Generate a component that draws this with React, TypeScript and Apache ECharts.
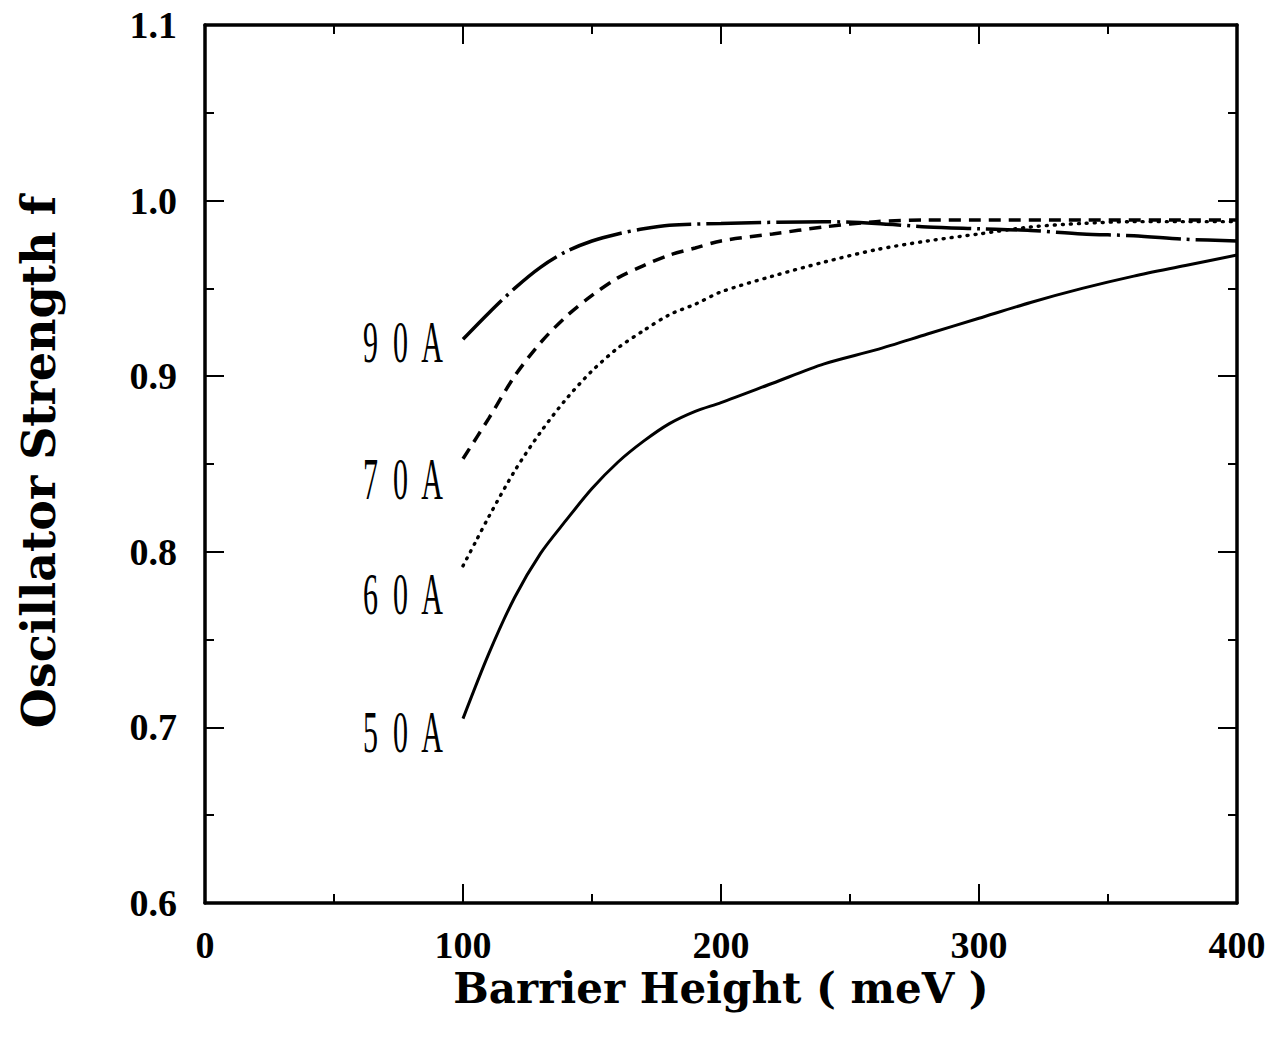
import React, { useEffect, useRef } from "react";
import * as echarts from "echarts";

// Barrier height (meV) and oscillator strength f for each well width
const x50 = [100, 110, 120, 130, 140, 150, 160, 170, 180, 190, 200, 220, 240, 260, 280, 300, 320, 340, 360, 380, 400];
const f50 = [0.705, 0.742, 0.774, 0.799, 0.818, 0.836, 0.851, 0.863, 0.873, 0.880, 0.885, 0.896, 0.907, 0.915, 0.924, 0.933, 0.942, 0.950, 0.957, 0.963, 0.969];

const x60 = [100, 105, 110, 120, 130, 140, 150, 160, 170, 180, 190, 200, 220, 240, 260, 280, 300, 320, 340, 360, 380, 400];
const f60 = [0.792, 0.806, 0.820, 0.846, 0.868, 0.887, 0.903, 0.916, 0.926, 0.935, 0.941, 0.948, 0.957, 0.965, 0.972, 0.977, 0.981, 0.985, 0.987, 0.988, 0.988, 0.988];

const x70 = [100, 110, 120, 130, 140, 150, 160, 170, 180, 190, 200, 220, 240, 260, 280, 300, 340, 400];
const f70 = [0.853, 0.876, 0.900, 0.919, 0.934, 0.946, 0.956, 0.963, 0.969, 0.973, 0.977, 0.981, 0.985, 0.988, 0.989, 0.989, 0.989, 0.989];

const x90 = [100, 110, 120, 130, 140, 150, 160, 170, 180, 200, 240, 260, 280, 300, 320, 340, 360, 380, 400];
const f90 = [0.921, 0.936, 0.950, 0.962, 0.971, 0.977, 0.981, 0.984, 0.986, 0.987, 0.988, 0.987, 0.985, 0.984, 0.983, 0.981, 0.980, 0.978, 0.977];

const curveLabels = ["5  0  A", "6  0  A", "7  0  A", "9  0  A"];
const xTitle = "Barrier Height ( meV )";
const yTitle = "Oscillator Strength f";

const X_MIN = 0, X_MAX = 400, X_INT = 100;
const Y_MIN = 0.6, Y_MAX = 1.1, Y_INT = 0.1;

const zip = (xs: number[], ys: number[]) => xs.map((x, i) => [x, ys[i]]);

export default function App() {
  const ref = useRef<HTMLDivElement>(null);
  useEffect(() => {
    if (!ref.current) return;
    const chart = echarts.init(ref.current, undefined, { renderer: "svg" });
    const W = 1272;
    const grid = { left: 205, right: 35, top: 25, bottom: 138 };
    const tickFont = { fontFamily: "Liberation Serif", fontWeight: "bold" as const, fontSize: 38, color: "#000" };
    const axisCommon = (pos: string, showLabel: boolean) => ({
      position: pos,
      axisLine: { show: true, onZero: false, lineStyle: { color: "#000", width: 3.5 } },
      axisTick: { show: true, inside: true, length: 19, lineStyle: { color: "#000", width: 2 } },
      minorTick: { show: true, splitNumber: 2, length: 9, lineStyle: { color: "#000", width: 2 } },
      splitLine: { show: false },
      axisLabel: { show: showLabel, ...tickFont },
    });
    const seriesDefs = [
      { name: "50A", data: zip(x50, f50), lineStyle: { type: "solid", width: 3 } },
      { name: "60A", data: zip(x60, f60), lineStyle: { type: [1, 7], width: 3.4, cap: "round" } },
      { name: "70A", data: zip(x70, f70), lineStyle: { type: [12, 8], width: 3.5 } },
      { name: "90A", data: zip(x90, f90), lineStyle: { type: [55, 6, 3, 6], width: 3.5 } },
    ];
    chart.setOption({
      animation: false,
      backgroundColor: "#fff",
      grid: { ...grid, containLabel: false },
      xAxis: [
        { type: "value", min: X_MIN, max: X_MAX, interval: X_INT, ...axisCommon("bottom", true),
          axisLabel: { ...tickFont, margin: 23 } },
        { type: "value", min: X_MIN, max: X_MAX, interval: X_INT, ...axisCommon("top", false) },
      ],
      yAxis: [
        { type: "value", min: Y_MIN, max: Y_MAX, interval: Y_INT, ...axisCommon("left", true),
          axisLabel: { ...tickFont, margin: 28, formatter: (v: number) => v.toFixed(1) } },
        { type: "value", min: Y_MIN, max: Y_MAX, interval: Y_INT, ...axisCommon("right", false) },
      ],
      series: seriesDefs.map((s) => ({
        type: "line",
        name: s.name,
        xAxisIndex: 0,
        yAxisIndex: 0,
        data: s.data,
        showSymbol: false,
        symbol: "none",
        smooth: 0.3,
        lineStyle: { color: "#000", ...s.lineStyle },
        z: 3,
      })),
    });

    // curve labels placed to the left of each curve's first point
    const labelDy = [13, 28, 20, 2];
    const starts = seriesDefs.map((s) => s.data[0]);
    const labelEls = starts.map((p, i) => {
      const px = chart.convertToPixel({ gridIndex: 0 }, p as number[]) as number[];
      return {
        type: "text",
        x: px[0] - 20,
        y: px[1] + labelDy[i],
        scaleX: 0.5,
        style: {
          text: curveLabels[i],
          font: "60px 'Liberation Serif'",
          fill: "#000",
          textAlign: "right",
          textVerticalAlign: "middle",
          align: "right",
          verticalAlign: "middle",
        },
        z: 10,
      };
    });
    const plotCx = grid.left + (W - grid.left - grid.right) / 2;
    chart.setOption({
      graphic: [
        ...labelEls,
        {
          type: "text",
          x: plotCx,
          y: 988,
          style: {
            text: xTitle,
            font: "bold 42px 'DejaVu Serif'",
            fill: "#000",
            textAlign: "center",
            textVerticalAlign: "middle",
            align: "center",
            verticalAlign: "middle",
          },
        },
        {
          type: "text",
          x: 39,
          y: 462,
          rotation: Math.PI / 2,
          style: {
            text: yTitle,
            font: "bold 46px 'DejaVu Serif'",
            fill: "#000",
            textAlign: "center",
            textVerticalAlign: "middle",
            align: "center",
            verticalAlign: "middle",
          },
        },
      ],
    });
    return () => chart.dispose();
  }, []);
  return (
    <div
      ref={ref}
      style={{ position: "fixed", left: 0, top: 0, width: 1272, height: 1041, background: "#fff" }}
    />
  );
}
